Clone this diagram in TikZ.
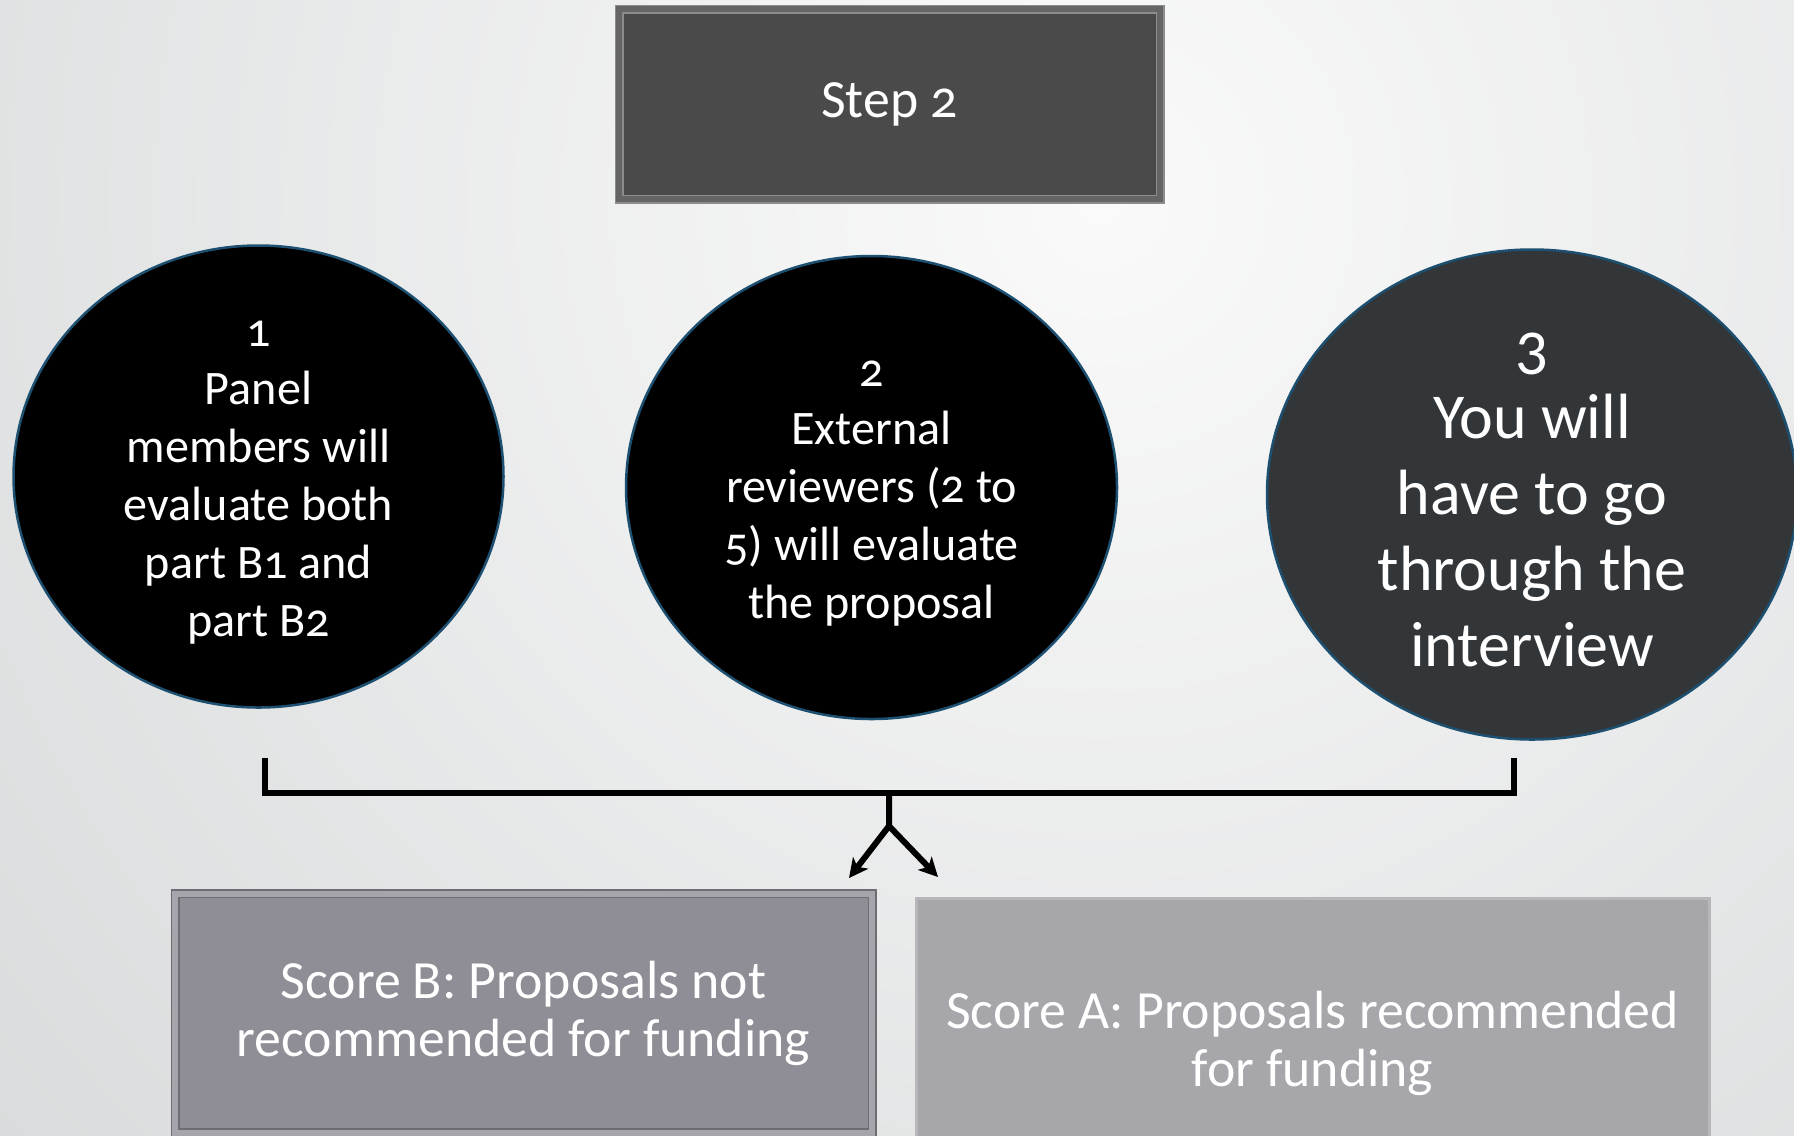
\documentclass[tikz,border=0pt]{standalone}
\usepackage{fontspec}
\setmainfont{Carlito}
\usetikzlibrary{positioning,shapes.geometric,arrows.meta}
\definecolor{bgOut}{HTML}{D8DADB}
\definecolor{bgIn}{HTML}{FAFAFA}
\definecolor{stepfill}{HTML}{4A4A4A}
\definecolor{stepedge}{HTML}{8C8C8C}
\definecolor{ringblue}{HTML}{1D4F70}
\definecolor{darkfill}{HTML}{323638}
\definecolor{scoreBfill}{HTML}{8F8E96}
\definecolor{scoreBedge}{HTML}{6E6D74}
\definecolor{scoreBband}{HTML}{A6A5AC}
\definecolor{scoreAfill}{HTML}{A6A6AB}
\definecolor{scoreAedge}{HTML}{B6B6BB}
\tikzset{
  main/.style={ellipse, inner sep=-2mm, draw=ringblue, line width=0.25mm, text=white, align=center,
    font=\fontsize{13.7}{16.5}\selectfont\addfontfeatures{Numbers=OldStyle}},
  big/.style={font=\fontsize{18.2}{21.7}\selectfont, inner sep=-3mm},
  box/.style={rectangle, text=white, align=center, inner sep=0pt},
  connect/.style={-{Stealth[length=1.9mm, width=1.9mm, inset=0.5mm]}, line width=0.6mm},
  bracket/.style={line width=0.6mm}
}
\begin{document}
\begin{tikzpicture}[x=0.1mm, y=-0.1mm]
  \useasboundingbox (0,0) rectangle (1794,1135);
  \fill[bgOut] (0,0) rectangle (1794,1135);
  \shade[inner color=bgIn, outer color=bgOut] (1100,200) circle (1500);

  % Step header
  \node[box, fill=stepfill, draw=stepedge, line width=0.15mm, double=stepfill!85!white, double distance=0.6mm,
    minimum width=54.1mm, minimum height=19mm,
    font=\fontsize{15.3}{18}\selectfont\addfontfeatures{Numbers=OldStyle}] (step) at (889.5,104) {Step 2};

  % Evaluation bubbles
  \node[main, fill=black, minimum width=49.1mm, minimum height=46.3mm] (c2) [below=5.5mm of step, xshift=-1.8mm]
    {\rule{0pt}{11pt}2\\External\\reviewers (2 to\\5) will evaluate\\the proposal};
  \node[main, fill=black, minimum width=49mm, minimum height=46.2mm] (c1) [left=12mm of c2, yshift=1.1mm]
    {\rule{0pt}{11pt}1\\Panel\\members will\\evaluate both\\part B1 and\\part B2};
  \node[main, big, fill=darkfill, minimum width=53mm, minimum height=49mm] (c3) [right=14.75mm of c2, yshift=-0.7mm]
    {\rule{0pt}{15pt}3\\[-3.6pt]You will\\have to go\\through the\\interview};

  % Bracket
  \coordinate (bl) at (265,758);
  \coordinate (br) at (1514,758);
  \coordinate (hub) at (889,793);
  \coordinate (fork) at (889,826);
  \coordinate (tipB) at (849,878);
  \coordinate (tipA) at (938,877);
  \draw[bracket] (bl) -- (bl |- hub) -- (br |- hub) -- (br);
  \draw[connect] (hub) -- (fork) -- (tipB);
  \draw[connect] (fork) -- (tipA);

  % Scores
  \node[box, fill=scoreBfill, draw=scoreBedge, line width=0.15mm, double=scoreBband, double distance=0.6mm,
    minimum width=69.7mm, minimum height=23.9mm, font=\fontsize{15.3}{16.5}\selectfont] (scoreB) at (523.5,1013)
    {Score B: Proposals not\\recommended for funding};
  \node[box, fill=scoreAfill, draw=scoreAedge, line width=0.3mm,
    minimum width=79.3mm, minimum height=29mm, font=\fontsize{15.3}{16.5}\selectfont] (scoreA) at (1312.5,1043)
    {Score A: Proposals recommended\\for funding};
\end{tikzpicture}
\end{document}
